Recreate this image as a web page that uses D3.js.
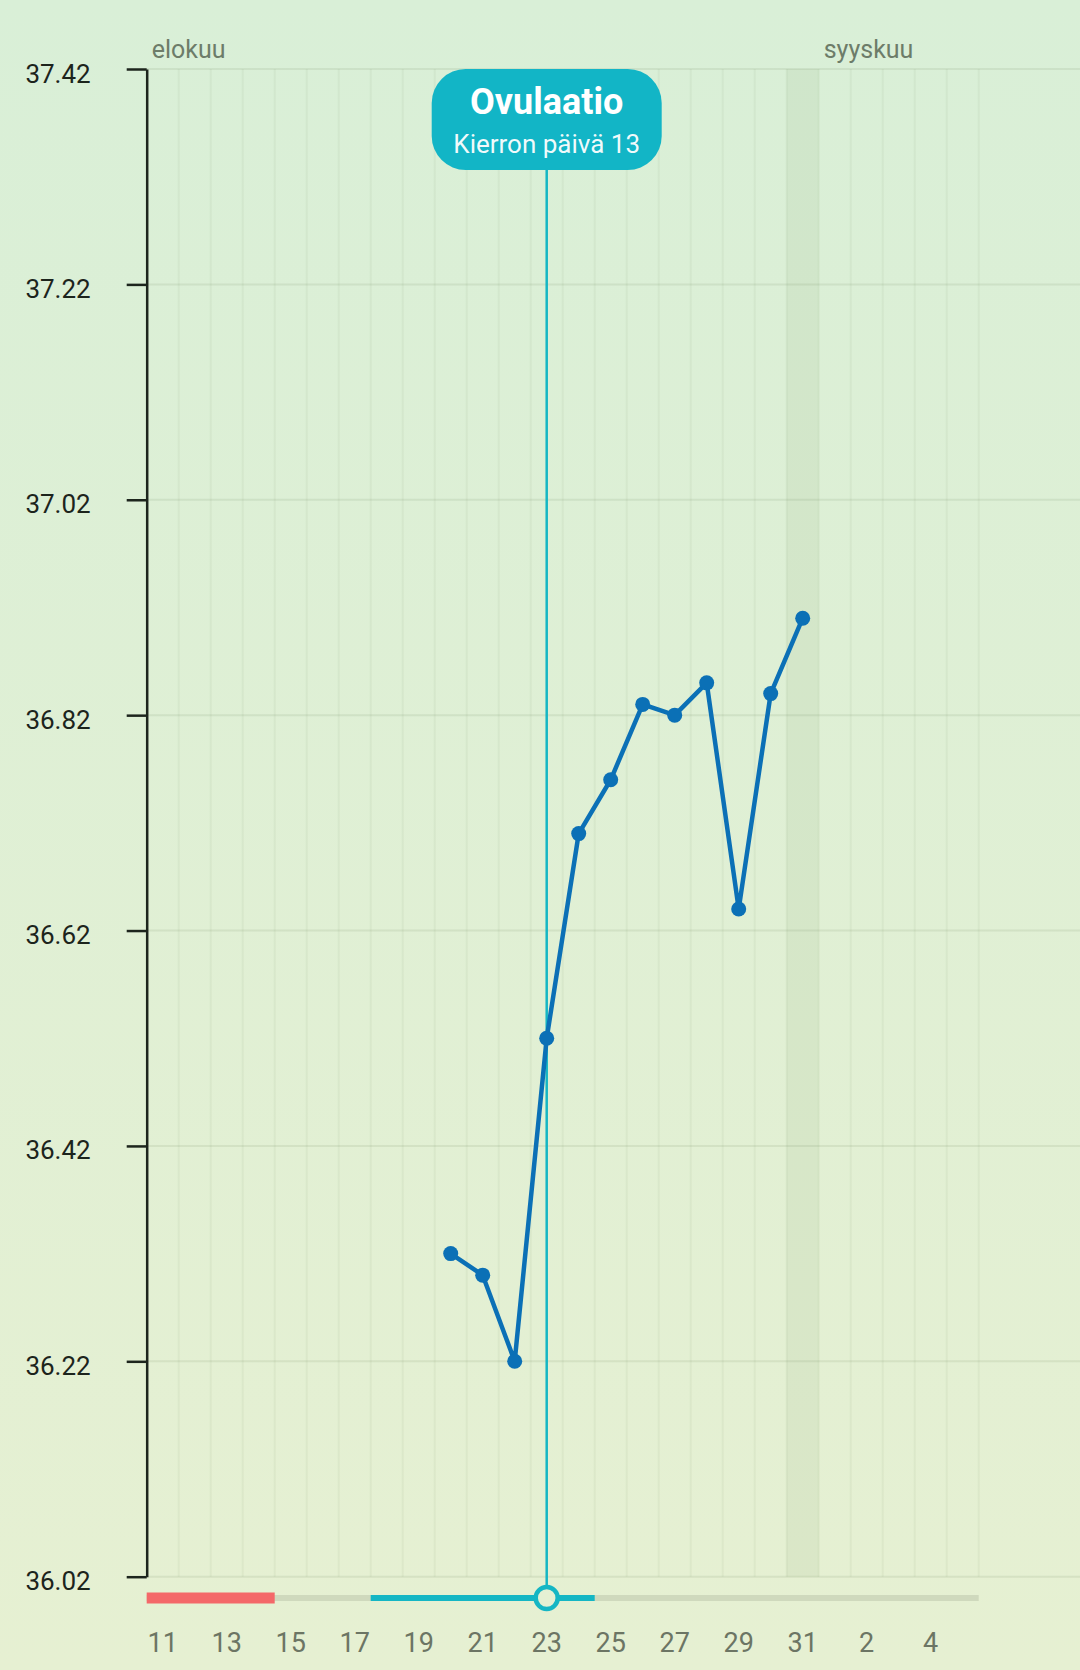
<!DOCTYPE html>
<html>
<head>
<meta charset="utf-8">
<script src="https://cdn.jsdelivr.net/npm/d3@7"></script>
<style>
  body { margin: 0; background: #dfefd5; }
  svg { display: block; font-family: Roboto, "Noto Sans", sans-serif; }
</style>
</head>
<body>
<div id="chart"></div>
<script>
// temperature readings (August days)
var tempDays = ["2019-08-20", "2019-08-21", "2019-08-22", "2019-08-23", "2019-08-24", "2019-08-25",
                "2019-08-26", "2019-08-27", "2019-08-28", "2019-08-29", "2019-08-30", "2019-08-31"];
var temps = [36.32, 36.30, 36.22, 36.52, 36.71, 36.76, 36.83, 36.82, 36.85, 36.64, 36.84, 36.91];

var yTicks = [36.02, 36.22, 36.42, 36.62, 36.82, 37.02, 37.22, 37.42];
var xTickDays = ["2019-08-11", "2019-08-13", "2019-08-15", "2019-08-17", "2019-08-19", "2019-08-21",
                 "2019-08-23", "2019-08-25", "2019-08-27", "2019-08-29", "2019-08-31", "2019-09-02", "2019-09-04"];
var months = [{name: "elokuu", start: "2019-08-11"}, {name: "syyskuu", start: "2019-09-01"}];

var chartStart = "2019-08-11", chartEnd = "2019-09-06";
var periodRange = ["2019-08-11", "2019-08-15"];
var fertileRange = ["2019-08-18", "2019-08-25"];
var ovulationDay = "2019-08-23";
var todayDay = "2019-08-31";
var ovulationTitle = "Ovulaatio";
var ovulationSub = "Kierron päivä 13";

var width = 1080, height = 1670;
var plotLeft = 146.7, plotRight = 978.7, plotTop = 69, plotBottom = 1576.7;
var barY = 1598;
var teal = "#15b6c4";

var parse = d3.utcParse("%Y-%m-%d");
var x = d3.scaleUtc()
    .domain([parse(chartStart), parse(chartEnd)])
    .range([plotLeft, plotRight]);
var y = d3.scaleLinear()
    .domain([36.02, 37.42])
    .range([plotBottom, plotTop]);
var mid = function(s) { return x(d3.utcHour.offset(parse(s), 12)); };

var svg = d3.select("#chart").append("svg")
    .attr("width", width)
    .attr("height", height);

var grad = svg.append("defs").append("linearGradient")
    .attr("id", "bg").attr("x1", 0).attr("y1", 0).attr("x2", 0).attr("y2", 1);
grad.append("stop").attr("offset", "0%").attr("stop-color", "#d9efd7");
grad.append("stop").attr("offset", "100%").attr("stop-color", "#e6f0d2");
svg.append("rect").attr("width", width).attr("height", height).attr("fill", "url(#bg)");

// today column
svg.append("rect")
    .attr("x", x(parse(todayDay)))
    .attr("width", x(d3.utcDay.offset(parse(todayDay), 1)) - x(parse(todayDay)))
    .attr("y", plotTop)
    .attr("height", plotBottom - plotTop)
    .attr("fill", "rgba(110,140,90,0.09)");

// vertical grid per day
var allDays = d3.utcDays(parse(chartStart), d3.utcDay.offset(parse(chartEnd), 1));
svg.append("g").selectAll("line")
    .data(allDays)
    .enter().append("line")
    .attr("x1", function(d) { return x(d); })
    .attr("x2", function(d) { return x(d); })
    .attr("y1", plotTop)
    .attr("y2", plotBottom)
    .attr("stroke", "rgba(90,120,70,0.06)")
    .attr("stroke-width", 2);

// horizontal grid
svg.append("g").selectAll("line")
    .data(yTicks)
    .enter().append("line")
    .attr("x1", plotLeft)
    .attr("x2", width)
    .attr("y1", function(d) { return y(d); })
    .attr("y2", function(d) { return y(d); })
    .attr("stroke", "rgba(90,120,70,0.11)")
    .attr("stroke-width", 2);

// y axis
var yAxis = svg.append("g")
    .attr("transform", "translate(" + plotLeft + ",0)")
    .call(d3.axisLeft(y).tickValues(yTicks).tickSize(20).tickSizeOuter(0).tickPadding(36)
          .tickFormat(d3.format(".2f")));
yAxis.select(".domain").attr("stroke", "#1d251d").attr("stroke-width", 2.5);
yAxis.selectAll(".tick line").attr("stroke", "#1d251d").attr("stroke-width", 2.5);
yAxis.selectAll(".tick text")
    .attr("fill", "#1c241c")
    .attr("font-size", 26)
    .attr("font-family", "Roboto, sans-serif")
    .attr("dy", "0.5em");

// month names
svg.append("g").selectAll("text")
    .data(months)
    .enter().append("text")
    .attr("x", function(d) { return x(parse(d.start)) + 5; })
    .attr("y", 58)
    .attr("fill", "#6d7c69")
    .attr("font-size", 25)
    .text(function(d) { return d.name; });

// day labels
var fmtDay = d3.utcFormat("%-d");
svg.append("g").selectAll("text")
    .data(xTickDays)
    .enter().append("text")
    .attr("x", function(d) { return mid(d); })
    .attr("y", 1652)
    .attr("text-anchor", "middle")
    .attr("fill", "#6c7564")
    .attr("font-size", 27)
    .text(function(d) { return fmtDay(parse(d)); });

// cycle bar
svg.append("line")
    .attr("x1", plotLeft).attr("x2", plotRight)
    .attr("y1", barY).attr("y2", barY)
    .attr("stroke", "#cfd9bd").attr("stroke-width", 6);
svg.append("line")
    .attr("x1", x(parse(periodRange[0]))).attr("x2", x(parse(periodRange[1])))
    .attr("y1", barY).attr("y2", barY)
    .attr("stroke", "#f46869").attr("stroke-width", 11);
svg.append("line")
    .attr("x1", x(parse(fertileRange[0]))).attr("x2", x(parse(fertileRange[1])))
    .attr("y1", barY).attr("y2", barY)
    .attr("stroke", teal).attr("stroke-width", 6);

// ovulation marker
var ox = mid(ovulationDay);
svg.append("line")
    .attr("x1", ox).attr("x2", ox)
    .attr("y1", 160).attr("y2", barY)
    .attr("stroke", teal).attr("stroke-width", 2.5);
svg.append("circle")
    .attr("cx", ox).attr("cy", barY).attr("r", 11)
    .attr("fill", "#e5f0d3")
    .attr("stroke", teal).attr("stroke-width", 4.5);

svg.append("rect")
    .attr("x", ox - 115).attr("y", 69)
    .attr("width", 230).attr("height", 101)
    .attr("rx", 34).attr("ry", 34)
    .attr("fill", "#12b5c6");
svg.append("text")
    .attr("x", ox).attr("y", 114)
    .attr("text-anchor", "middle")
    .attr("fill", "#ffffff")
    .attr("font-size", 36)
    .attr("font-weight", "bold")
    .text(ovulationTitle);
svg.append("text")
    .attr("x", ox).attr("y", 153)
    .attr("text-anchor", "middle")
    .attr("fill", "rgba(255,255,255,0.95)")
    .attr("font-size", 26)
    .text(ovulationSub);

// temperature line
var pts = tempDays.map(function(d, i) { return {day: d, t: temps[i]}; });
var line = d3.line()
    .x(function(d) { return mid(d.day); })
    .y(function(d) { return y(d.t); });
svg.append("path")
    .datum(pts)
    .attr("d", line)
    .attr("fill", "none")
    .attr("stroke", "#0b70b6")
    .attr("stroke-width", 4.5)
    .attr("stroke-linejoin", "round");
svg.append("g").selectAll("circle")
    .data(pts)
    .enter().append("circle")
    .attr("cx", function(d) { return mid(d.day); })
    .attr("cy", function(d) { return y(d.t); })
    .attr("r", 7.5)
    .attr("fill", "#0b70b6");
</script>
</body>
</html>
